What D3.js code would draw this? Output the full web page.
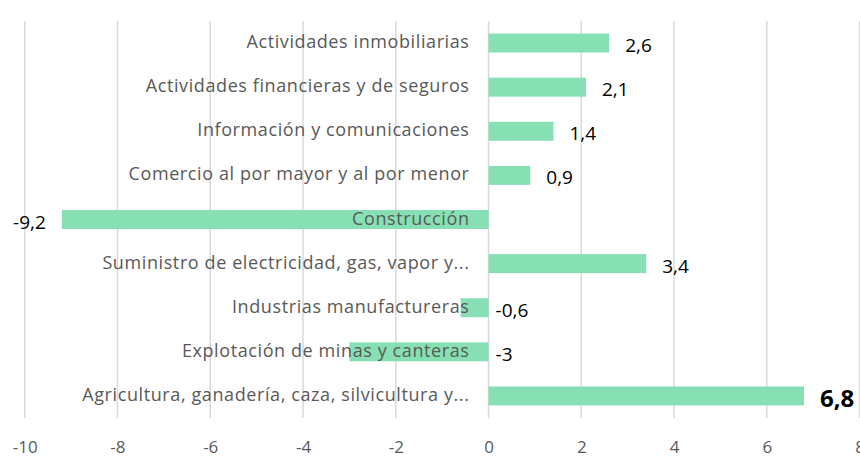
<!DOCTYPE html>
<html>
<head>
<meta charset="utf-8">
<script src="https://cdn.jsdelivr.net/npm/d3@7"></script>
<style>
  body { margin: 0; background: #fff; }
  svg { display: block; font-family: "Open Sans", "Noto Sans", sans-serif; }
</style>
</head>
<body>
<svg id="chart" width="860" height="465"></svg>
<script>
// categories top to bottom, as shown
var categories = [
	"Actividades inmobiliarias",
	"Actividades financieras y de seguros",
	"Información y comunicaciones",
	"Comercio al por mayor y al por menor",
	"Construcción",
	"Suministro de electricidad, gas, vapor y...",
	"Industrias manufactureras",
	"Explotación de minas y canteras",
	"Agricultura, ganadería, caza, silvicultura y..."
]
var values = [2.6, 2.1, 1.4, 0.9, -9.2, 3.4, -0.6, -3, 6.8]
var xTicks = [-10, -8, -6, -4, -2, 0, 2, 4, 6, 8]
var highlight = "Agricultura, ganadería, caza, silvicultura y..."

var svg = d3.select("#chart")

var x = d3.scaleLinear().domain([-10, 8]).range([24.7, 859.6])
var y = d3.scaleBand().domain(categories).range([21, 418])
	.paddingInner(0.57).paddingOuter(0.285)

var fmt = function(v){ return String(v).replace(".", ",") }

// grid
svg.append("g").selectAll("line").data(xTicks).join("line")
	.attr("x1", d => x(d)).attr("x2", d => x(d))
	.attr("y1", 21).attr("y2", 418)
	.attr("stroke", "#d9d9d9").attr("stroke-width", 1.5)

// axis labels
var xAxis = d3.axisBottom(x).tickValues(xTicks).tickSize(0).tickPadding(0).tickFormat(d => String(d))
var ax = svg.append("g").attr("transform", "translate(0,447)").call(xAxis)
ax.select(".domain").remove()
ax.selectAll("text").attr("dy", "0.35em").attr("y", 0)
	.style("font-family", '"Open Sans", sans-serif').style("font-size", "17px").attr("fill", "#595959")

var rows = categories.map((c, i) => ({cat: c, v: values[i]}))

// bars
svg.append("g").selectAll("rect").data(rows).join("rect")
	.attr("x", d => x(Math.min(0, d.v)))
	.attr("width", d => Math.abs(x(d.v) - x(0)))
	.attr("y", d => y(d.cat))
	.attr("height", y.bandwidth())
	.attr("fill", "#86e0b4")

// category labels (drawn over the bars)
svg.append("g").selectAll("text").data(rows).join("text")
	.attr("x", x(0) - 19)
	.attr("y", d => y(d.cat) + y.bandwidth()/2 - 2)
	.attr("text-anchor", "end")
	.attr("dominant-baseline", "central")
	.style("font-size", "18px")
	.style("letter-spacing", "0.6px")
	.attr("fill", "#595959")
	.text(d => d.cat)

// value labels
svg.append("g").selectAll("text").data(rows).join("text")
	.attr("x", d => {
		if (d.v < -5) return x(d.v) - 16
		if (d.v < 0) return x(0) + 7
		return x(d.v) + 16
	})
	.attr("y", d => y(d.cat) + y.bandwidth()/2 + 2)
	.attr("text-anchor", d => d.v < -5 ? "end" : "start")
	.attr("dominant-baseline", "central")
	.style("font-size", d => d.cat == highlight ? "24px" : "19px")
	.style("font-weight", d => d.cat == highlight ? "bold" : "normal")
	.attr("fill", "#000")
	.text(d => fmt(d.v))
</script>
</body>
</html>
